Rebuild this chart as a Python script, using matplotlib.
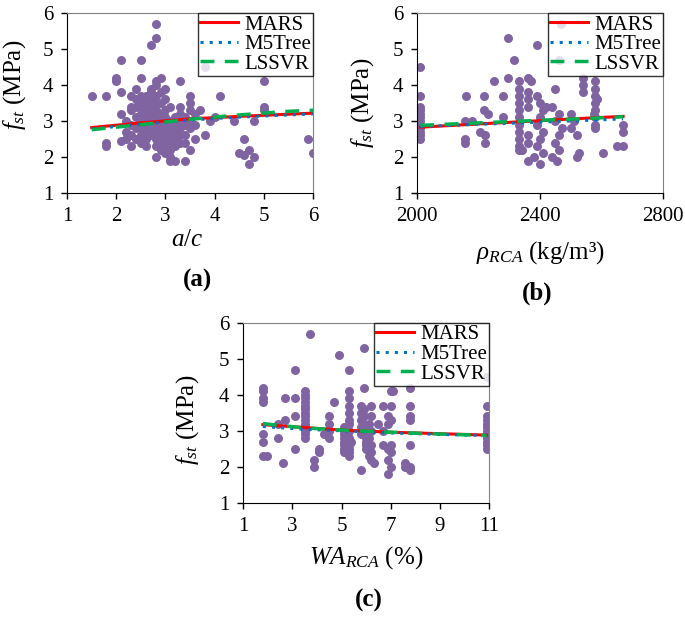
import matplotlib.pyplot as plt

plt.rcParams['font.family'] = 'serif'
plt.rcParams['font.serif'] = ['Liberation Serif', 'DejaVu Serif']
plt.rcParams['mathtext.fontset'] = 'custom'
plt.rcParams['mathtext.rm'] = 'Liberation Serif'
plt.rcParams['mathtext.it'] = 'Liberation Serif:italic'
plt.rcParams['mathtext.bf'] = 'Liberation Serif:bold'

# ---- panel (a): a/c ----
a_x = [1.5, 1.8, 1.8, 1.8, 2.0, 2.0, 2.1, 2.1, 2.1, 2.1, 2.3, 2.3, 2.4, 2.5, 2.5,
       2.7, 2.8, 2.8, 2.8, 2.9, 3.0, 2.8, 3.0, 3.1, 3.2, 3.4, 3.3, 3.3, 3.1, 3.5,
       3.5, 3.7, 3.5, 3.6, 3.8, 3.8, 3.9, 4.1, 4.0, 4.4, 4.5, 4.6, 4.6, 4.7, 4.7,
       4.8, 4.8, 5.0, 5.0, 5.0, 5.9, 6.0,
       2.2, 2.2, 2.2, 2.3, 2.3, 2.3, 2.3, 2.4, 2.4, 2.4, 2.4, 2.4,
       2.5, 2.5, 2.5, 2.5, 2.5, 2.5, 2.5, 2.5, 2.5,
       2.6, 2.6, 2.6, 2.6, 2.6, 2.6, 2.6, 2.6,
       2.7, 2.7, 2.7, 2.7, 2.7, 2.7, 2.7, 2.7,
       2.8, 2.8, 2.8, 2.8, 2.8, 2.8, 2.8, 2.8, 2.8,
       2.9, 2.9, 2.9, 2.9, 2.9, 2.9, 2.9, 2.9,
       3.0, 3.0, 3.0, 3.0, 3.0, 3.0, 3.0,
       3.1, 3.1, 3.1, 3.1, 3.1, 3.1,
       3.2, 3.2, 3.2, 3.2, 3.2,
       3.3, 3.3, 3.3, 3.3, 3.3,
       3.4, 3.4, 3.4, 3.4,
       3.5, 3.5, 3.5, 3.6, 3.6]
a_y = [3.7, 3.7, 2.4, 2.3, 4.2, 4.1, 4.7, 3.8, 3.2, 2.45, 2.3, 3.7, 3.9, 4.7, 4.2,
       5.1, 5.3, 5.7, 4.1, 4.2, 3.9, 2.0, 2.1, 1.9, 1.9, 1.9, 4.1, 3.4, 3.4, 3.7,
       3.5, 3.3, 2.2, 2.5, 2.6, 4.5, 3.0, 3.7, 3.1, 3.0, 2.1, 2.5, 2.05, 2.2, 1.8,
       2.0, 3.0, 4.1, 3.4, 3.3, 2.5, 2.1,
       2.7, 2.5, 3.0, 3.3, 3.4, 2.9, 2.6, 3.1, 3.4, 3.6, 2.8, 2.5,
       2.4, 2.6, 2.8, 3.0, 3.2, 3.4, 3.6, 3.7, 3.5,
       2.5, 2.7, 2.9, 3.1, 3.3, 3.5, 3.7, 2.3,
       2.6, 2.8, 3.0, 3.2, 3.4, 3.6, 3.8, 3.9,
       2.3, 2.5, 2.7, 2.9, 3.1, 3.3, 3.5, 3.7, 4.0,
       2.2, 2.4, 2.6, 2.8, 3.0, 3.2, 3.5, 3.8,
       2.3, 2.5, 2.7, 2.9, 3.1, 3.3, 3.6,
       2.2, 2.4, 2.6, 2.8, 3.0, 2.0,
       2.3, 2.5, 2.7, 2.9, 3.1,
       2.4, 2.6, 2.8, 3.0, 3.2,
       2.4, 2.6, 2.9, 3.1,
       2.8, 3.0, 3.3, 2.9, 3.2]
a_line_x = [1.5, 2.5, 3.5, 4.5, 5.5, 6.0]
a_mars = [2.82, 2.95, 3.06, 3.13, 3.19, 3.22]
a_m5 = [2.78, 2.92, 3.03, 3.11, 3.17, 3.20]
a_ls = [2.76, 2.90, 3.05, 3.17, 3.27, 3.30]

# ---- panel (b): density ----
b_x = [2010, 2010, 2010, 2010, 2010, 2010, 2010, 2010, 2010, 2010, 2010, 2010,
       2155, 2155, 2160, 2155, 2177, 2205, 2220, 2220, 2217, 2217, 2230, 2250,
       2278, 2278, 2297, 2297, 2315,
       2330, 2330, 2330, 2330, 2330, 2330, 2330, 2330, 2330, 2330, 2330, 2340,
       2360, 2360, 2360, 2360, 2360, 2360, 2360, 2370, 2390,
       2390, 2400, 2410, 2400, 2390, 2410, 2400, 2390, 2410, 2400, 2420, 2380,
       2460, 2450, 2440, 2460, 2450, 2470, 2460, 2450, 2460, 2440, 2455, 2467,
       2500, 2510, 2500, 2520, 2525, 2520,
       2540, 2540, 2540,
       2580, 2580, 2580, 2580, 2580, 2580, 2580, 2580, 2575, 2585,
       2605, 2670, 2670, 2670, 2650]
b_y = [4.5, 3.7, 3.4, 3.3, 3.2, 3.1, 3.0, 2.9, 2.8, 2.7, 2.6, 2.5,
       2.4, 2.5, 3.7, 3.0, 3.0, 2.7, 2.6, 2.4, 3.7, 3.3, 3.2, 4.1,
       3.7, 3.1, 5.3, 4.2, 4.7,
       4.1, 3.9, 3.7, 3.5, 3.3, 3.1, 2.9, 2.7, 2.5, 2.3, 2.2, 2.2,
       4.2, 3.8, 3.6, 3.4, 2.6, 2.4, 1.9, 4.1, 5.1,
       3.7, 3.5, 3.3, 3.1, 2.9, 2.7, 2.5, 2.3, 2.1, 1.8, 3.4, 2.0,
       4.7, 3.9, 3.4, 3.2, 3.0, 2.8, 2.6, 2.4, 2.2, 2.0, 1.9, 5.7,
       3.2, 3.0, 2.8, 2.6, 2.1, 2.0,
       4.2, 4.0, 3.8,
       4.1, 3.9, 3.7, 3.5, 3.3, 3.1, 2.9, 2.8, 3.2, 3.6,
       2.1, 2.9, 2.7, 2.3, 2.3]
b_line_x = [2010, 2200, 2400, 2550, 2670]
b_mars = [2.83, 2.92, 3.01, 3.08, 3.13]
b_m5 = [2.85, 2.91, 2.97, 3.02, 3.06]
b_ls = [2.88, 2.95, 3.02, 3.07, 3.12]

# ---- panel (c): water absorption ----
c_x = [1.8, 1.8, 1.8, 1.8, 1.8, 1.8, 1.8, 1.95, 2.4, 2.4, 2.6, 2.7, 2.7,
       3.1, 3.1, 3.1, 3.1,
       3.5, 3.5, 3.5, 3.5, 3.5, 3.5, 3.5, 3.5, 3.5, 3.5, 3.5, 3.5, 3.5, 3.5,
       3.7, 3.9, 3.9, 4.1, 4.1, 4.3, 4.5, 4.5, 4.5, 4.5, 4.7, 4.9,
       5.1, 5.1, 5.1, 5.1, 5.1, 5.1, 5.1, 5.1,
       5.3, 5.3, 5.3, 5.3, 5.3, 5.3, 5.3, 5.3, 5.3, 5.3, 5.3, 5.3, 5.3,
       5.4, 5.8,
       5.8, 5.8, 5.8, 5.8, 5.8, 5.9, 5.9, 5.9, 6.0, 6.0, 6.0, 6.0, 6.0,
       5.9, 5.9,
       6.2, 6.2, 6.1, 6.2, 6.1, 6.2, 6.1, 6.2, 6.1, 6.2, 6.3, 6.5,
       6.7, 6.7, 6.7,
       7.0, 7.0, 6.9, 7.0, 6.9, 7.0, 6.9, 7.0, 6.9, 7.0, 6.9, 7.1,
       7.6, 7.6,
       7.8, 7.8, 7.8, 7.8, 7.8, 7.8, 7.8,
       10.9, 10.9, 10.9, 10.9, 10.9, 10.9, 10.9, 10.9, 10.9, 10.9, 10.9, 10.9]
c_y = [4.2, 4.1, 3.9, 3.8, 2.9, 2.7, 2.3, 2.3, 2.8, 3.2, 2.1, 3.9, 3.3,
       4.7, 3.9, 3.4, 2.5,
       4.1, 4.0, 3.9, 3.8, 3.7, 3.6, 3.5, 3.4, 3.3, 3.2, 3.1, 3.0, 2.9, 2.8,
       5.7, 2.2, 2.0, 2.5, 2.4, 2.9, 3.4, 3.2, 3.0, 2.8, 3.8, 5.1,
       3.1, 3.0, 2.9, 2.8, 2.7, 2.6, 2.5, 2.4,
       4.7, 4.1, 3.9, 3.7, 3.5, 3.3, 3.2, 3.0, 2.8, 2.6, 2.5, 2.4, 2.3,
       2.7, 1.9,
       3.7, 3.5, 3.3, 3.1, 2.9, 3.6, 3.4, 3.2, 3.0, 2.8, 2.7, 2.6, 2.5,
       5.3, 4.2,
       3.7, 3.4, 3.2, 3.0, 2.8, 2.6, 2.5, 2.4, 2.3, 2.2, 2.1, 3.2,
       3.7, 3.0, 2.6,
       4.1, 3.7, 3.4, 3.3, 3.2, 2.6, 2.5, 2.4, 2.2, 2.0, 1.8, 4.1,
       2.1, 2.0,
       4.2, 3.7, 3.4, 3.3, 2.6, 2.0, 1.9,
       4.5, 3.7, 3.4, 3.3, 3.2, 3.1, 3.0, 2.9, 2.8, 2.7, 2.6, 2.5]
c_line_x = [1.8, 3.5, 5.0, 7.0, 9.0, 10.9]
c_mars = [3.17, 3.09, 3.02, 2.96, 2.92, 2.88]
c_m5 = [3.12, 3.04, 3.00, 2.94, 2.90, 2.87]
c_ls = [3.20, 3.08, 3.02, 2.96, 2.91, 2.87]

dot_color = '#8064A2'
serif = 'Liberation Serif'


def panel(ax, x, y, lx, mars, m5, ls, xlim, xticks, xlabel, xlab_pos, ylab_pos):
    ax.scatter(x, y, s=42, color=dot_color, zorder=2, linewidths=0)
    ax.plot(lx, mars, color='#FF0000', lw=2.2, label='MARS', zorder=3)
    ax.plot(lx, m5, color='#0070C0', lw=2.2, ls=(0, (1, 2)), label='M5Tree', zorder=4)
    ax.plot(lx, ls, color='#00B050', lw=2.5, ls=(0, (4, 3)), label='LSSVR', zorder=5)
    ax.set_xlim(xlim)
    ax.set_xticks(xticks)
    ax.set_ylim(1, 6)
    ax.set_yticks([1, 2, 3, 4, 5, 6])
    ax.tick_params(labelsize=15, direction='out', length=4, width=1, pad=6)
    for lab in ax.get_xticklabels() + ax.get_yticklabels():
        lab.set_family(serif)
    ax.set_xlabel(xlabel, fontsize=18, family=serif, va='center')
    ax.xaxis.set_label_coords(*xlab_pos)
    ax.set_ylabel(r'$f_{st}$ (MPa)', fontsize=18, family=serif, va='center')
    ax.yaxis.set_label_coords(*ylab_pos)
    for s in ['top', 'right']:
        ax.spines[s].set_color('#808080')
    leg = ax.legend(loc='upper right', frameon=True, fancybox=False,
                    prop={'family': serif, 'size': 15},
                    edgecolor='black', borderaxespad=0, borderpad=0.1,
                    labelspacing=0.0, handlelength=1.8, handletextpad=0.3)
    leg.get_frame().set_linewidth(1.0)


fig = plt.figure(figsize=(6.85, 6.17), dpi=100)
ax1 = fig.add_axes([0.098, 0.687, 0.359, 0.292])
ax2 = fig.add_axes([0.609, 0.687, 0.359, 0.292])
ax3 = fig.add_axes([0.355, 0.185, 0.359, 0.292])

panel(ax1, a_x, a_y, a_line_x, a_mars, a_m5, a_ls, (1, 6), [1, 2, 3, 4, 5, 6], r'$a/c$',
      (0.49, -0.26), (-0.215, 0.6))
panel(ax2, b_x, b_y, b_line_x, b_mars, b_m5, b_ls, (2000, 2800), [2000, 2400, 2800],
      r'$\rho_{RCA}$ (kg/m³)', (0.5, -0.33), (-0.224, 0.5))
panel(ax3, c_x, c_y, c_line_x, c_mars, c_m5, c_ls, (1, 11), [1, 3, 5, 7, 9, 11],
      r'$WA_{RCA}$ (%)', (0.5, -0.305), (-0.228, 0.46))

for px, py, t in [(197, 280, '(a)'), (537, 293, '(b)'), (369, 600, '(c)')]:
    fig.text(px / 685, 1 - py / 617, t, fontsize=18, fontweight='bold',
             ha='center', va='center', family=serif)

plt.savefig('out.png', dpi=100)
